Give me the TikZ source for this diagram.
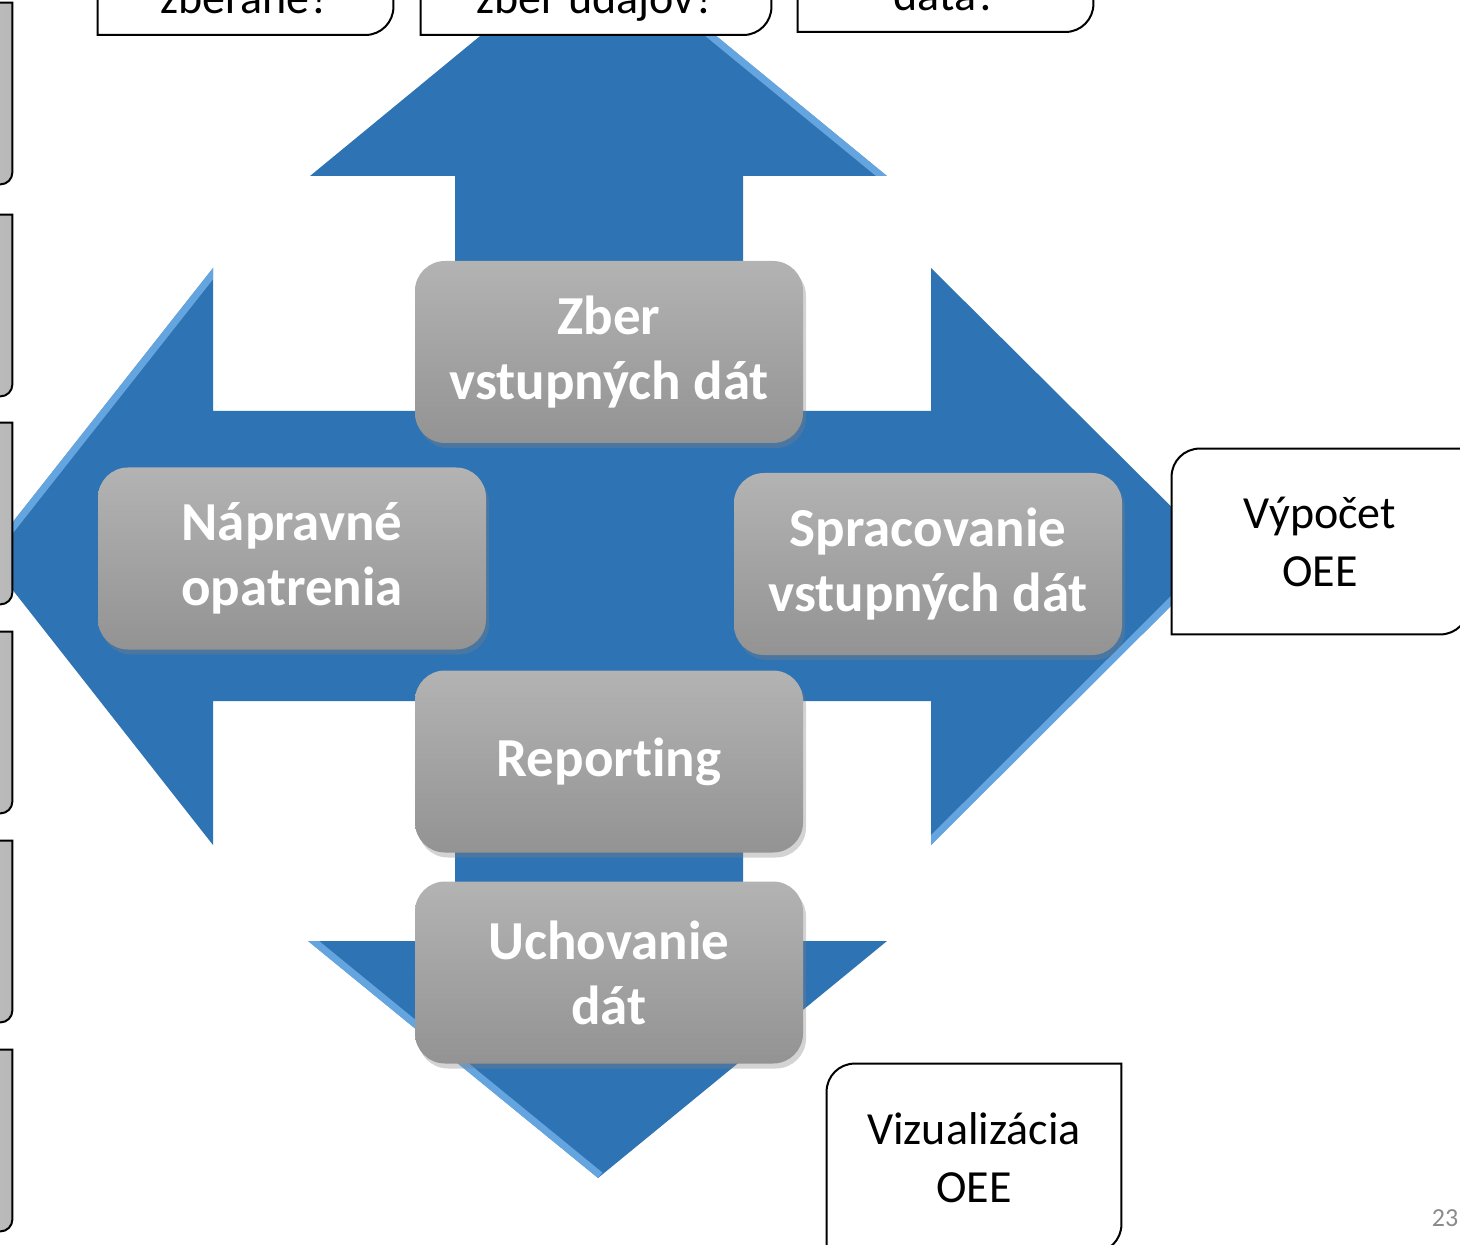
\documentclass[tikz,border=0pt]{standalone}
\usepackage{fontspec}
\setmainfont{Carlito}[Ligatures=NoCommon]
\usetikzlibrary{shadows}
\definecolor{arrowblue}{HTML}{2E73B4}
\definecolor{bevelblue}{HTML}{7DBBF2}
\definecolor{cardtop}{HTML}{B3B3B3}
\definecolor{cardbottom}{HTML}{939393}
\definecolor{pagegray}{HTML}{8A8A8A}
\pgfdeclarelayer{labels}
\pgfsetlayers{main,labels}

\tikzset{
  stepcard/.style={rounded corners=15pt, top color=cardtop, bottom color=cardbottom,
    text=white, align=center, inner sep=0pt, minimum width=194pt, minimum height=91pt,
    font=\bfseries\fontsize{27.5}{32.5}\selectfont,
    drop shadow={opacity=0.35, shadow xshift=1.5pt, shadow yshift=-2.5pt}},
  notecard/.style={align=center, inner sep=0pt, font=\fontsize{23}{29}\selectfont},
  topcard/.style={notecard, anchor=south, text height=90pt, text depth=10.5pt},
  sidecard/.style={inner sep=0pt, minimum width=156pt, minimum height=90.5pt},
  cardedge/.style={draw=black, line width=1pt},
  bevel/.style={bevelblue, line width=7pt, opacity=0.7}
}

\begin{document}
\begin{tikzpicture}[x=0.5pt,y=-0.5pt]
  \useasboundingbox (0,0) rectangle (1460,1245);
  \clip (0,0) rectangle (1460,1245);

  % four-way arrow
  \path[save path=\crosspath] (598,-61) -- (887,176) -- (743,176) -- (743,411) -- (931,411)
    -- (931,268) -- (1221,556) -- (931,845) -- (931,701) -- (743,701) -- (743,941)
    -- (887,941) -- (598,1178) -- (308,941) -- (455,941) -- (455,701) -- (213,701)
    -- (213,845) -- (-14,556) -- (213,268) -- (213,411) -- (455,411) -- (455,176)
    -- (310,176) -- cycle;
  \fill[arrowblue, use path=\crosspath];
  \begin{scope}
    \clip[use path=\crosspath];
    \draw[bevel] (598,-61) -- (887,176);
    \draw[bevel] (213,268) -- (-14,556);
    \draw[bevel] (931,845) -- (1221,556);
    \draw[bevel] (308,941) -- (598,1178);
  \end{scope}

  % steps
  \node[stepcard] (zber) at (609,352) {Zber\\vstupných dát};
  \node[stepcard] (naprava) at (292,558.5) {Nápravné\\opatrenia};
  \node[stepcard] (spracovanie) at (928,564) {Spracovanie\\vstupných dát};
  \node[stepcard] (reporting) at (609,761.5) {Reporting};
  \node[stepcard] (uchovanie) at (609,972.5) {Uchovanie\\dát};

  % notes
  \begin{pgfonlayer}{labels}
    \node[notecard, minimum width=148pt, minimum height=92.5pt] (vypocet) at (1320,541.5) {Výpočet\\OEE};
    \node[notecard, minimum width=147pt, minimum height=94pt] (vizual) at (974,1158) {Vizualizácia\\OEE};
    \node[topcard, minimum width=147.5pt] (q1) at (245.5,35) {zberané?};
    \node[topcard, minimum width=175pt] (q2) at (596,35) {zber údajov?};
    \node[topcard, minimum width=147.5pt] (q3) at (945.5,32) {dáta?};
    \foreach \k/\top in {1/3,2/215,3/423,4/632,5/841,6/1050}
      \node[sidecard] (s\k) at (-144,\top+90.5) {};
  \end{pgfonlayer}

  \foreach \n in {vypocet,vizual,q1,q2,q3} {
    \begin{scope}[xshift=3pt,yshift=-2pt]
      \fill[black, opacity=0.22] ([yshift=-14pt]\n.north west) arc[start angle=180, end angle=90, radius=14pt]
        -- (\n.north east) -- ([yshift=14pt]\n.south east) arc[start angle=0, end angle=-90, radius=14pt]
        -- (\n.south west) -- cycle;
    \end{scope}
    \path[cardedge, fill=white] ([yshift=-14pt]\n.north west) arc[start angle=180, end angle=90, radius=14pt]
      -- (\n.north east) -- ([yshift=14pt]\n.south east) arc[start angle=0, end angle=-90, radius=14pt]
      -- (\n.south west) -- cycle;
  }
  \foreach \k in {1,...,6}
    \path[cardedge, left color=white, right color=black!28]
      ([yshift=-6pt]s\k.north west) arc[start angle=180, end angle=90, radius=6pt]
      -- (s\k.north east) -- ([yshift=6pt]s\k.south east) arc[start angle=0, end angle=-90, radius=6pt]
      -- (s\k.south west) -- cycle;

  \node[text=pagegray, font=\fontsize{13}{13}\selectfont] (page) at (1445,1218) {23};
\end{tikzpicture}
\end{document}
